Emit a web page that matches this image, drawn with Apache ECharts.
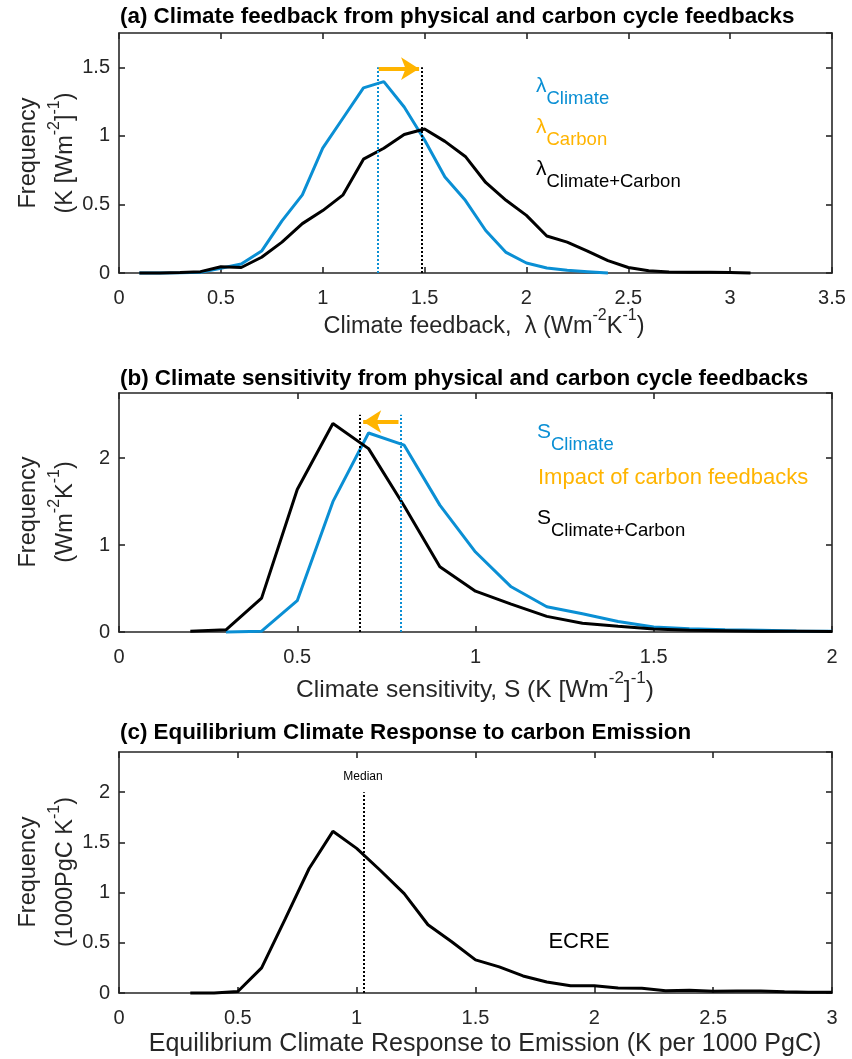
<!DOCTYPE html>
<html>
<head>
<meta charset="utf-8">
<script src="https://cdn.jsdelivr.net/npm/echarts@6/dist/echarts.min.js"></script>
<style>
html,body{margin:0;padding:0;background:#fff;}
#chart{width:852px;height:1059px;}
</style>
</head>
<body>
<div id="chart"></div>
<script>
// ---------- Panel (a): climate feedback lambda ----------
const lamXClimate = [0.1,0.2,0.3,0.4,0.5,0.6,0.7,0.8,0.9,1.0,1.1,1.2,1.3,1.4,1.5,1.6,1.7,1.8,1.9,2.0,2.1,2.2,2.3,2.4];
const lamClimate  = [0,0,0.002,0.005,0.035,0.065,0.16,0.38,0.57,0.91,1.13,1.35,1.395,1.21,0.97,0.70,0.53,0.31,0.15,0.073,0.037,0.02,0.01,0.0];
const lamXCC = [0.1,0.2,0.3,0.4,0.5,0.6,0.7,0.8,0.9,1.0,1.1,1.2,1.3,1.4,1.5,1.6,1.7,1.8,1.9,2.0,2.1,2.2,2.3,2.4,2.5,2.6,2.7,2.8,2.9,3.0,3.1];
const lamCC  = [0,0,0.003,0.01,0.045,0.04,0.115,0.225,0.36,0.455,0.57,0.83,0.91,1.01,1.05,0.96,0.85,0.66,0.53,0.42,0.27,0.225,0.16,0.09,0.04,0.017,0.007,0.005,0.005,0.004,0];
const lamMedClimate = 1.27, lamMedCC = 1.485, lamMedTop = 1.5, lamArrowY = 1.49;
const lamXTicks = {min:0, max:3.5, interval:0.5};
const lamYTicks = {min:0, max:1.75, interval:0.5};

// ---------- Panel (b): climate sensitivity S ----------
const sXClimate = [0.3,0.4,0.5,0.6,0.7,0.8,0.9,1.0,1.1,1.2,1.3,1.4,1.5,1.6,1.7,1.8,1.9,2.0];
const sClimate  = [0,0.01,0.36,1.50,2.29,2.15,1.46,0.92,0.52,0.29,0.21,0.12,0.057,0.038,0.027,0.02,0.012,0.008];
const sXCC = [0.2,0.3,0.4,0.5,0.6,0.7,0.8,0.9,1.0,1.1,1.2,1.3,1.4,1.5,1.6,1.7,1.8,1.9,2.0];
const sCC  = [0.008,0.025,0.39,1.64,2.40,2.11,1.45,0.75,0.47,0.32,0.18,0.10,0.065,0.035,0.02,0.015,0.01,0.008,0.005];
const sMedClimate = 0.789, sMedCC = 0.675, sMedTop = 2.5, sArrowY = 2.42;
const sXTicks = {min:0, max:2, interval:0.5};
const sYTicks = {min:0, max:2.75, interval:1};

// ---------- Panel (c): ECRE ----------
const eX = [0.3,0.4,0.5,0.6,0.7,0.8,0.9,1.0,1.1,1.2,1.3,1.4,1.5,1.6,1.7,1.8,1.9,2.0,2.1,2.2,2.3,2.4,2.5,2.6,2.7,2.8,2.9,3.0];
const ecre = [0,0,0.015,0.25,0.74,1.24,1.61,1.44,1.22,0.99,0.68,0.51,0.33,0.26,0.17,0.11,0.073,0.073,0.05,0.047,0.023,0.027,0.017,0.02,0.02,0.013,0.007,0.007];
const eMed = 1.03, eMedTop = 2.0;
const eXTicks = {min:0, max:3, interval:0.5};
const eYTicks = {min:0, max:2.4, interval:0.5};

// ---------- styling ----------
const BLUE = '#0a8fd4', ORANGE = '#ffb400', BLACK = '#000000', AX = '#262626';
const FONT = '"Liberation Sans", Arial, sans-serif';
const zip = (xs, ys) => xs.map((x, i) => [x, ys[i]]);

const grids = [
  {left:119, top:33, width:713, height:240},
  {left:119, top:393, width:713, height:239},
  {left:119, top:752, width:713, height:241}
];
const xt = [lamXTicks, sXTicks, eXTicks];
const yt = [lamYTicks, sYTicks, eYTicks];

const xAxes = [], yAxes = [];
grids.forEach((g, i) => {
  const lineStyle = {color: AX, width: 1.6};
  xAxes.push({type:'value', gridIndex:i, position:'bottom', min:xt[i].min, max:xt[i].max, interval:xt[i].interval,
    axisLine:{show:true, onZero:false, lineStyle}, axisTick:{show:true, inside:true, length:6, lineStyle},
    splitLine:{show:false}, axisLabel:{show:true, color:AX, fontSize:20, fontFamily:FONT, margin:15}});
  xAxes.push({type:'value', gridIndex:i, position:'top', min:xt[i].min, max:xt[i].max, interval:xt[i].interval,
    axisLine:{show:true, onZero:false, lineStyle}, axisTick:{show:true, inside:true, length:6, lineStyle},
    splitLine:{show:false}, axisLabel:{show:false}});
  yAxes.push({type:'value', gridIndex:i, position:'left', min:yt[i].min, max:yt[i].max, interval:yt[i].interval,
    axisLine:{show:true, onZero:false, lineStyle}, axisTick:{show:true, inside:true, length:6, lineStyle},
    splitLine:{show:false}, axisLabel:{show:true, color:AX, fontSize:20, fontFamily:FONT, margin:9, showMaxLabel:false}});
  yAxes.push({type:'value', gridIndex:i, position:'right', min:yt[i].min, max:yt[i].max, interval:yt[i].interval,
    axisLine:{show:true, onZero:false, lineStyle}, axisTick:{show:true, inside:true, length:6, lineStyle},
    splitLine:{show:false}, axisLabel:{show:false}});
});

function vline(x, top, color) {
  return [{coord:[x, 0], lineStyle:{color:color}}, {coord:[x, top]}];
}
function lineSeries(name, data, color, gi, extra) {
  return Object.assign({
    name, type:'line', xAxisIndex:gi*2, yAxisIndex:gi*2, data, showSymbol:false, symbol:'none',
    lineStyle:{color, width:3}, itemStyle:{color}, animation:false, z:3, clip:false
  }, extra || {});
}
const dotted = (data) => ({symbol:'none', silent:true, animation:false, label:{show:false},
  lineStyle:{type:'dotted', width:2}, data});

const series = [
  lineSeries('lamClimate', zip(lamXClimate, lamClimate), BLUE, 0, {markLine: dotted([vline(lamMedClimate, lamMedTop, BLUE), vline(lamMedCC, lamMedTop, BLACK)])}),
  lineSeries('lamCC', zip(lamXCC, lamCC), BLACK, 0),
  {type:'line', xAxisIndex:0, yAxisIndex:0, data:[], animation:false,
    markLine:{symbol:['none','arrow'], symbolSize:[17,18], silent:true, animation:false, label:{show:false},
      lineStyle:{color:ORANGE, width:4, type:'solid'},
      data:[[{coord:[lamMedClimate+0.005, lamArrowY]}, {coord:[lamMedCC-0.012, lamArrowY]}]]}},

  lineSeries('sClimate', zip(sXClimate, sClimate), BLUE, 1, {markLine: dotted([vline(sMedClimate, sMedTop, BLUE), vline(sMedCC, sMedTop, BLACK)])}),
  lineSeries('sCC', zip(sXCC, sCC), BLACK, 1),
  {type:'line', xAxisIndex:2, yAxisIndex:2, data:[], animation:false,
    markLine:{symbol:['none','arrow'], symbolSize:[17,18], silent:true, animation:false, label:{show:false},
      lineStyle:{color:ORANGE, width:4, type:'solid'},
      data:[[{coord:[sMedClimate-0.005, sArrowY]}, {coord:[sMedCC+0.01, sArrowY]}]]}},

  lineSeries('ecre', zip(eX, ecre), BLACK, 2, {markLine: dotted([vline(eMed, eMedTop, BLACK)])})
];

// text helpers
const supRich = (size, sup) => ({
  n:{fontSize:size, lineHeight:size+8, verticalAlign:'bottom', fontFamily:FONT, fill:AX},
  s:{fontSize:sup || Math.round(size*0.68), lineHeight:size+8, verticalAlign:'top', fontFamily:FONT, fill:AX}
});
const subRich = (gsize, size, color) => ({
  g:{fontSize:gsize, lineHeight:size+14, verticalAlign:'top', fontFamily:FONT, fill:color},
  b:{fontSize:size, lineHeight:size+14, verticalAlign:'bottom', fontFamily:FONT, fill:color}
});

function title(txt, y) {
  return {type:'text', x:120, y:y, style:{text:txt, font:'bold 22.4px ' + FONT, fill:'#000', verticalAlign:'middle', align:'left'}};
}
function richText(x, y, text, rich, align, rot) {
  return {type:'text', x, y, rotation: rot || 0, style:{text, rich, align: align || 'center', verticalAlign:'middle'}};
}
function plainText(x, y, text, size, color, align) {
  return {type:'text', x, y, style:{text, font: size + 'px ' + FONT, fill:color, align: align || 'left', verticalAlign:'middle'}};
}

const graphic = [
  title('(a) Climate feedback from physical and carbon cycle feedbacks', 17),
  title('(b) Climate sensitivity from physical and carbon cycle feedbacks', 379),
  title('(c) Equilibrium Climate Response to carbon Emission', 733),

  // x-axis labels
  richText(484, 323, '{n|Climate feedback,  λ (Wm}{s|-2}{n|K}{s|-1}{n|)}', supRich(23.5, 16)),
  richText(475, 686, '{n|Climate sensitivity, S (K [Wm}{s|-2}{n|]}{s|-1}{n|)}', supRich(24.5, 17)),
  richText(485, 1040, '{n|Equilibrium Climate Response to Emission (K per 1000 PgC)}', supRich(25, 17)),

  // y-axis labels
  richText(25, 153, '{n|Frequency}', supRich(23.5, 16), 'center', Math.PI/2),
  richText(62, 153, '{n|(K [Wm}{s|-2}{n|]}{s|-1}{n|)}', supRich(23.5, 16), 'center', Math.PI/2),
  richText(25, 512, '{n|Frequency}', supRich(23.5, 16), 'center', Math.PI/2),
  richText(62, 512, '{n|(Wm}{s|-2}{n|K}{s|-1}{n|)}', supRich(23.5, 16), 'center', Math.PI/2),
  richText(25, 872, '{n|Frequency}', supRich(23.5, 16), 'center', Math.PI/2),
  richText(62, 872, '{n|(1000PgC K}{s|-1}{n|)}', supRich(23.5, 16), 'center', Math.PI/2),

  // panel (a) legend text
  richText(536, 92, '{g|λ}{b|Climate}', subRich(21, 18.5, BLUE), 'left'),
  richText(536, 133, '{g|λ}{b|Carbon}', subRich(21, 18.5, ORANGE), 'left'),
  richText(536, 175, '{g|λ}{b|Climate+Carbon}', subRich(21, 18.5, BLACK), 'left'),

  // panel (b) legend text
  richText(537, 438, '{g|S}{b|Climate}', subRich(21, 18.5, BLUE), 'left'),
  plainText(538, 478, 'Impact of carbon feedbacks', 22, ORANGE),
  richText(537, 524, '{g|S}{b|Climate+Carbon}', subRich(21, 18.5, BLACK), 'left'),

  // panel (c)
  plainText(363, 777, 'Median', 12, '#000', 'center'),
  plainText(579, 942, 'ECRE', 22, '#000', 'center')
];

const chart = echarts.init(document.getElementById('chart'), null, {renderer:'canvas'});
chart.setOption({
  animation:false,
  backgroundColor:'#fff',
  grid: grids,
  xAxis: xAxes,
  yAxis: yAxes,
  series,
  graphic
});
</script>
</body>
</html>
